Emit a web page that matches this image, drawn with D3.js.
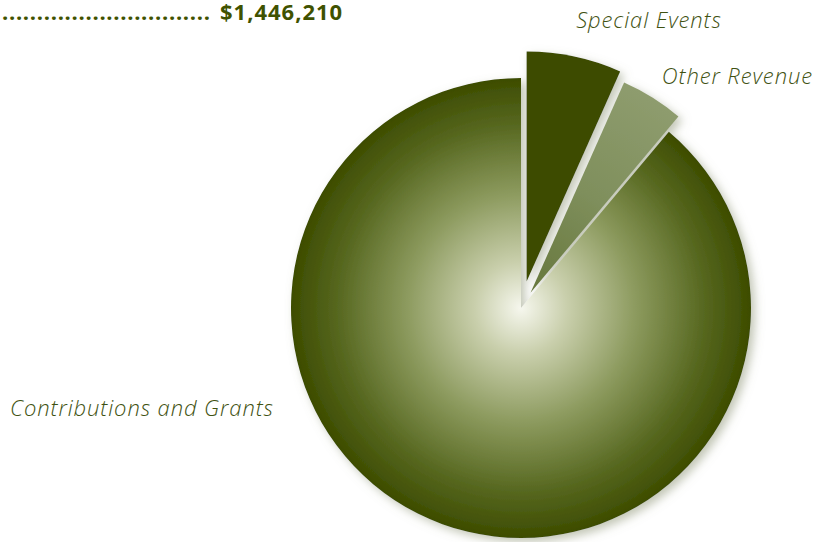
<!DOCTYPE html>
<html>
<head>
<meta charset="utf-8">
<script src="https://cdn.jsdelivr.net/npm/d3@7"></script>
<style>
  body { margin: 0; background: #fff; }
  svg { display: block; font-family: "Open Sans", "Noto Sans", sans-serif; }
</style>
</head>
<body>
<svg id="chart"></svg>
<script>
// revenue data
const categories = ["Special Events", "Other Revenue", "Contributions and Grants"];
const values = [96400, 64300, 1285510];
const totalLabel = "$1,446,210";

// how far each slice is pulled out (px)
const explode = [27, 18, 0];

const width = 820;
const height = 542;
const cx = 521, cy = 308, radius = 230;

const svg = d3.select("#chart").attr("width", width).attr("height", height);

const defs = svg.append("defs");

// soft grey shadow under the slices
const shadow = defs.append("filter").attr("id", "shadow")
    .attr("x", "-20%").attr("y", "-20%").attr("width", "140%").attr("height", "140%");
shadow.append("feDropShadow")
    .attr("dx", 4).attr("dy", 4).attr("stdDeviation", 5)
    .attr("flood-color", "#858c6c").attr("flood-opacity", 0.5);

// big slice: light centre fading to dark olive
const g1 = defs.append("radialGradient").attr("id", "mainGrad")
    .attr("gradientUnits", "userSpaceOnUse")
    .attr("cx", 0).attr("cy", 0).attr("r", radius);
[[0, "#f6f7ee"], [0.2, "#c9cfac"], [0.5, "#8c9a5e"], [0.8, "#56671f"], [1, "#3d4c00"]]
    .forEach(([o, c]) => g1.append("stop").attr("offset", o).attr("stop-color", c));

const g2 = defs.append("radialGradient").attr("id", "otherGrad")
    .attr("gradientUnits", "userSpaceOnUse")
    .attr("cx", 0).attr("cy", 0).attr("r", radius);
[[0, "#66773c"], [0.5, "#7f8f5c"], [1, "#8e9c6e"]]
    .forEach(([o, c]) => g2.append("stop").attr("offset", o).attr("stop-color", c));

const fills = ["#3c4b00", "url(#otherGrad)", "url(#mainGrad)"];

const data = categories.map((c, i) => ({ name: c, value: values[i], i: i }));

const pie = d3.pie().sort(null).value(d => d.value);
const arc = d3.arc().innerRadius(0).outerRadius(radius);

const arcs = pie(data);

const g = svg.append("g")
    .attr("transform", `translate(${cx},${cy})`)
    .attr("filter", "url(#shadow)");

// draw the big slice first so the pulled out ones sit over its shadow
g.selectAll("path")
    .data(arcs.slice().reverse())
    .join("path")
    .attr("d", arc)
    .attr("fill", d => fills[d.data.i])
    .attr("transform", d => {
        const mid = (d.startAngle + d.endAngle) / 2;
        const off = explode[d.data.i];
        return `translate(${Math.sin(mid) * off},${-Math.cos(mid) * off})`;
    });

// labels
const labelColor = "#3f5212";
const labels = [
    { x: 649, y: 28, anchor: "middle" },
    { x: 813, y: 84, anchor: "end" },
    { x: 10, y: 416, anchor: "start" }
];
svg.selectAll("text.label")
    .data(data)
    .join("text")
    .attr("class", "label")
    .attr("x", d => labels[d.i].x)
    .attr("y", d => labels[d.i].y)
    .attr("text-anchor", d => labels[d.i].anchor)
    .attr("font-size", 22)
    .attr("letter-spacing", 0.9)
    .attr("font-style", "italic")
    .attr("font-weight", 300)
    .attr("fill", labelColor)
    .text(d => d.name);

// total line with leader dots
svg.append("text")
    .attr("x", 2).attr("y", 20)
    .attr("font-size", 22)
    .attr("font-weight", "bold")
    .attr("fill", "#3f5200")
    .attr("textLength", 208)
    .attr("lengthAdjust", "spacing")
    .text(".".repeat(30));

svg.append("text")
    .attr("x", 220).attr("y", 20)
    .attr("font-size", 22)
    .attr("letter-spacing", 1)
    .attr("font-weight", "bold")
    .attr("fill", "#3f5200")
    .text(totalLabel);
</script>
</body>
</html>
